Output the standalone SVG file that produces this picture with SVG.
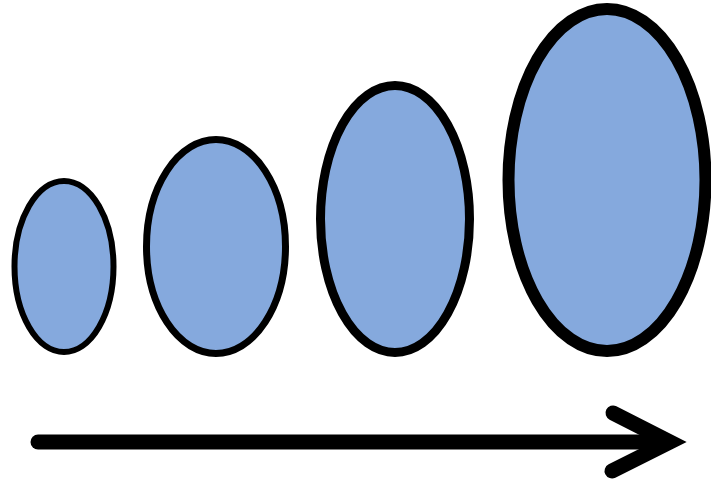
<svg xmlns="http://www.w3.org/2000/svg" width="711" height="485" viewBox="0 0 711 485">
<style>
.n{fill:#85a9dd;stroke:#000}
.c{fill:none;stroke:#000;stroke-width:15;stroke-linecap:round;stroke-linejoin:miter}
</style>
<rect width="711" height="485" fill="#fff"/>
<g id="node1"><ellipse class="n" cx="64" cy="266.5" rx="49.5" ry="85.5" stroke-width="6"/></g>
<g id="node2"><ellipse class="n" cx="216" cy="246.5" rx="69.5" ry="107" stroke-width="7"/></g>
<g id="node3"><ellipse class="n" cx="395" cy="219" rx="74.5" ry="133.5" stroke-width="9"/></g>
<g id="node4"><ellipse class="n" cx="607" cy="180" rx="98.5" ry="171" stroke-width="12"/></g>
<g id="connectors">
<path class="c" d="M38 442 H668"/>
<path class="c" d="M613 413 L670 442 L612 471"/>
</g>
</svg>
